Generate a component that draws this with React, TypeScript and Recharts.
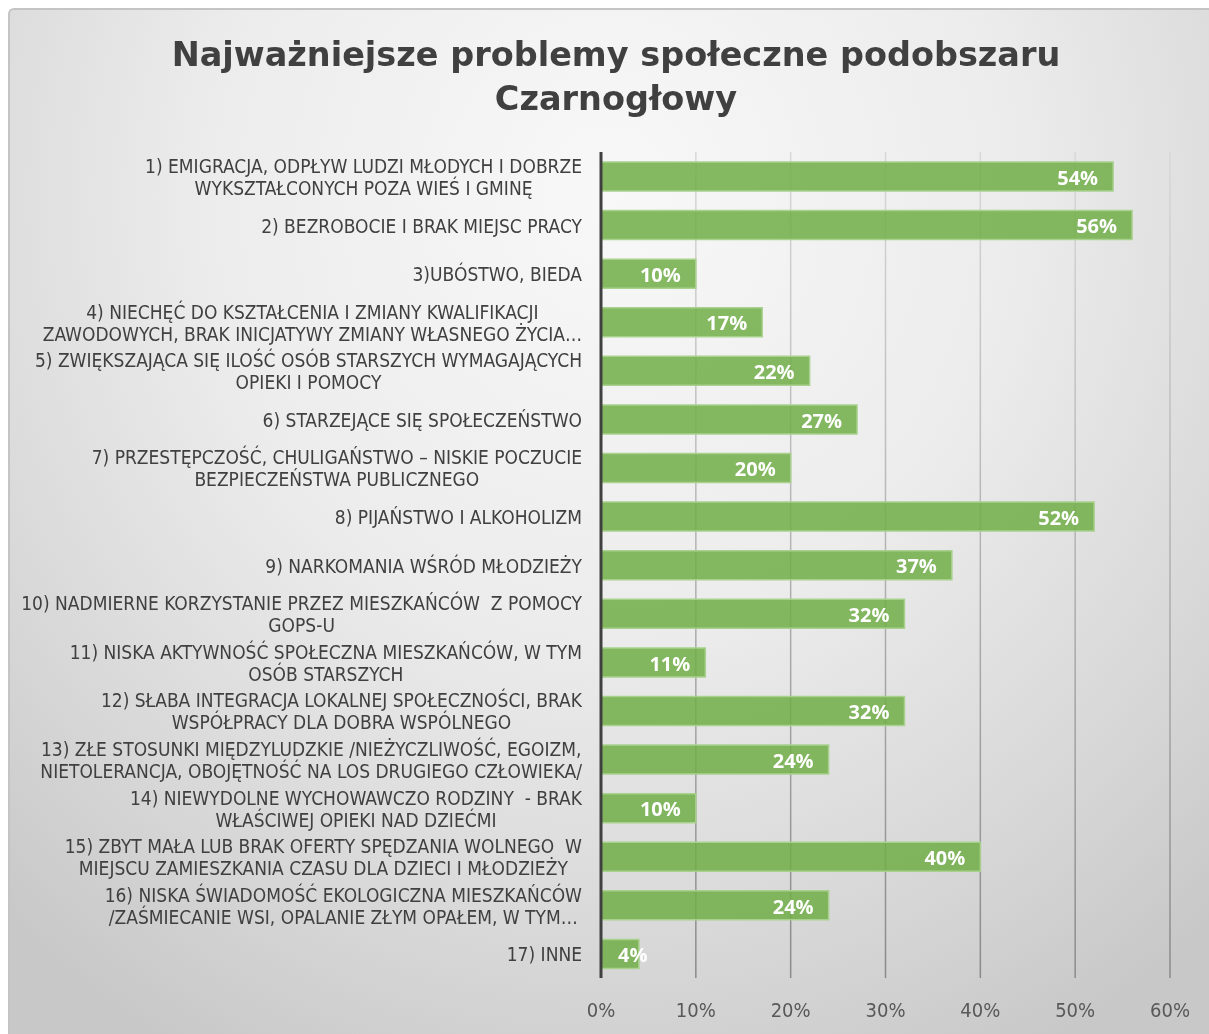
import React from 'react';
import { BarChart, Bar, XAxis, YAxis, CartesianGrid, LabelList } from 'recharts';

// Kategorie (linie rozdzielone "\n") i wartości w procentach
const categories = [
  '1) EMIGRACJA, ODPŁYW LUDZI MŁODYCH I DOBRZE\nWYKSZTAŁCONYCH POZA WIEŚ I GMINĘ',
  '2) BEZROBOCIE I BRAK MIEJSC PRACY',
  '3)UBÓSTWO, BIEDA',
  '4) NIECHĘĆ DO KSZTAŁCENIA I ZMIANY KWALIFIKACJI\nZAWODOWYCH, BRAK INICJATYWY ZMIANY WŁASNEGO ŻYCIA…',
  '5) ZWIĘKSZAJĄCA SIĘ ILOŚĆ OSÓB STARSZYCH WYMAGAJĄCYCH\nOPIEKI I POMOCY',
  '6) STARZEJĄCE SIĘ SPOŁECZEŃSTWO',
  '7) PRZESTĘPCZOŚĆ, CHULIGAŃSTWO – NISKIE POCZUCIE\nBEZPIECZEŃSTWA PUBLICZNEGO',
  '8) PIJAŃSTWO I ALKOHOLIZM',
  '9) NARKOMANIA WŚRÓD MŁODZIEŻY',
  '10) NADMIERNE KORZYSTANIE PRZEZ MIESZKAŃCÓW  Z POMOCY\nGOPS-U',
  '11) NISKA AKTYWNOŚĆ SPOŁECZNA MIESZKAŃCÓW, W TYM\nOSÓB STARSZYCH',
  '12) SŁABA INTEGRACJA LOKALNEJ SPOŁECZNOŚCI, BRAK\nWSPÓŁPRACY DLA DOBRA WSPÓLNEGO',
  '13) ZŁE STOSUNKI MIĘDZYLUDZKIE /NIEŻYCZLIWOŚĆ, EGOIZM,\nNIETOLERANCJA, OBOJĘTNOŚĆ NA LOS DRUGIEGO CZŁOWIEKA/',
  '14) NIEWYDOLNE WYCHOWAWCZO RODZINY  - BRAK\nWŁAŚCIWEJ OPIEKI NAD DZIEĆMI',
  '15) ZBYT MAŁA LUB BRAK OFERTY SPĘDZANIA WOLNEGO  W\nMIEJSCU ZAMIESZKANIA CZASU DLA DZIECI I MŁODZIEŻY',
  '16) NISKA ŚWIADOMOŚĆ EKOLOGICZNA MIESZKAŃCÓW\n/ZAŚMIECANIE WSI, OPALANIE ZŁYM OPAŁEM, W TYM…',
  '17) INNE',
];

const values = [54, 56, 10, 17, 22, 27, 20, 52, 37, 32, 11, 32, 24, 10, 40, 24, 4];

const xTicks = [0, 10, 20, 30, 40, 50, 60];

const data = categories.map((name, i) => ({ name, value: values[i] }));

const LABEL_FONT = '19px "DejaVu Sans Condensed"';

// pomiar szerokości tekstu, żeby wyśrodkować linie jak w Excelu
let ctx: CanvasRenderingContext2D | null = null;
function measure(text: string) {
  if (!ctx) ctx = document.createElement('canvas').getContext('2d');
  if (!ctx) return text.length * 10;
  ctx.font = LABEL_FONT;
  return ctx.measureText(text).width;
}

const CategoryTick = (props: any) => {
  const { x, y, payload } = props;
  const lines = String(payload.value).split('\n');
  const maxW = Math.max(...lines.map(measure));
  const right = x - 19;
  const cx = right - maxW / 2;
  const lh = 22;
  const start = y + 1 - ((lines.length - 1) * lh) / 2;
  return (
    <text
      textAnchor="middle"
      fontFamily='"DejaVu Sans Condensed"'
      fontSize={19}
      fill="#404040"
      style={{ whiteSpace: 'pre' }}
    >
      {lines.map((l, i) => (
        <tspan key={i} x={cx} y={start + i * lh} dy="0.35em">
          {l}
        </tspan>
      ))}
    </text>
  );
};

const PercentTick = (props: any) => {
  const { x, y, payload } = props;
  return (
    <text
      x={x}
      y={y + 39}
      textAnchor="middle"
      fontFamily='"DejaVu Sans Condensed"'
      fontSize={20}
      fill="#595959"
    >
      {`${payload.value}%`}
    </text>
  );
};

const ValueLabel = (props: any) => {
  const { x, y, width, height, value } = props;
  const narrow = width < 60;
  return (
    <text
      x={narrow ? x + 17 : x + width - 15}
      y={y + height / 2 + 1}
      dy="0.36em"
      textAnchor={narrow ? 'start' : 'end'}
      fontFamily='"Open Sans"'
      fontWeight="bold"
      fontSize={20}
      fill="#ffffff"
    >
      {`${value}%`}
    </text>
  );
};

export default function App() {
  return (
    <div
      style={{
        position: 'fixed',
        left: 8,
        top: 8,
        width: 1201,
        height: 1026,
        boxSizing: 'border-box',
        borderTop: '2px solid #c4c4c4',
        borderLeft: '2px solid #c4c4c4',
        borderTopLeftRadius: 6,
        background:
          'radial-gradient(ellipse 75% 95% at 50% 18%, #f8f8f8 0%, #ececec 45%, #d6d6d6 80%, #c8c8c8 100%)',
        overflow: 'hidden',
      }}
    >
      <div
        style={{
          position: 'absolute',
          left: 0,
          top: 23,
          width: 1212,
          textAlign: 'center',
          fontFamily: '"DejaVu Sans"',
          fontWeight: 'bold',
          fontSize: 33.5,
          lineHeight: '44px',
          color: '#404040',
        }}
      >
        Najważniejsze problemy społeczne podobszaru
        <br />
        Czarnogłowy
      </div>
      <div style={{ position: 'absolute', left: -2, top: -2 }}>
        <BarChart
          width={1201}
          height={1026}
          data={data}
          layout="vertical"
          margin={{ top: 144, right: 39, bottom: 0, left: 0 }}
          barSize={29}
        >
          <defs>
            <linearGradient id="gridGrad" gradientUnits="userSpaceOnUse" x1="0" y1="144" x2="0" y2="970">
              <stop offset="0%" stopColor="#d8d8d8" />
              <stop offset="100%" stopColor="#8a8a8a" />
            </linearGradient>
          </defs>
          <CartesianGrid horizontal={false} stroke="url(#gridGrad)" strokeWidth={1.5} />
          <XAxis
            type="number"
            domain={[0, 60]}
            ticks={xTicks}
            axisLine={false}
            tickLine={false}
            tickSize={0}
            tickMargin={0}
            height={56}
            tick={<PercentTick />}
          />
          <YAxis
            type="category"
            dataKey="name"
            width={593}
            axisLine={{ stroke: '#404040', strokeWidth: 3 }}
            tickLine={false}
            tickSize={0}
            tickMargin={0}
            interval={0}
            tick={<CategoryTick />}
          />
          <Bar
            dataKey="value"
            fill="#70ad47"
            fillOpacity={0.85}
            stroke="#a9d18e"
            strokeWidth={1.5}
            isAnimationActive={false}
          >
            <LabelList dataKey="value" content={<ValueLabel />} />
          </Bar>
        </BarChart>
      </div>
    </div>
  );
}
